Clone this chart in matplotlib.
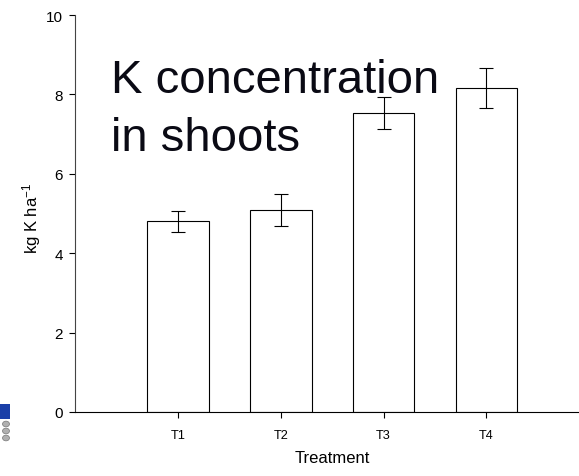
import numpy as np
import matplotlib
matplotlib.use('Agg')
import matplotlib.pyplot as plt
from matplotlib.patches import Rectangle, Circle

plt.rcParams['font.family'] = ['Liberation Sans', 'DejaVu Sans']
plt.rcParams['mathtext.fontset'] = 'custom'
plt.rcParams['mathtext.rm'] = 'Liberation Sans'
plt.rcParams['mathtext.it'] = 'Liberation Sans'

treatments = ['T1', 'T2', 'T3', 'T4']
k_conc = [4.80, 5.10, 7.52, 8.17]
err_low = [0.27, 0.41, 0.40, 0.51]
err_high = [0.26, 0.40, 0.41, 0.50]

fig = plt.figure(figsize=(5.79, 4.77), dpi=100)
ax = fig.add_axes([75 / 579, 64 / 477, 504 / 579, 397 / 477])

x = np.arange(1, len(treatments) + 1)
ax.bar(x, k_conc, width=0.6, color='white', edgecolor='black', linewidth=0.8, zorder=2)
ax.errorbar(x, k_conc, yerr=[err_low, err_high], fmt='none', ecolor='black',
            elinewidth=0.8, capsize=5, capthick=0.8, zorder=3)

ax.set_xlim(0, 4.9)
ax.set_ylim(0, 10)
ax.set_yticks([0, 2, 4, 6, 8, 10])
ax.set_xticks(x)
ax.set_xticklabels(treatments)
ax.tick_params(axis='y', direction='out', length=4.5, width=0.8, labelsize=11, pad=4)
ax.tick_params(axis='x', direction='out', length=4, width=0.8, labelsize=9.2, pad=8.5)
ax.spines['top'].set_visible(False)
ax.spines['right'].set_visible(False)
ax.spines['left'].set_color('#444444')
ax.spines['bottom'].set_color('black')
ax.spines['left'].set_linewidth(0.8)
ax.spines['bottom'].set_linewidth(0.8)

ax.set_ylabel('kg K ha$^{-1}$', fontsize=12)
ax.yaxis.set_label_coords(-0.064, 0.49)
ax.set_xlabel('Treatment', fontsize=12)
ax.xaxis.set_label_coords(0.51, -0.095)

fig.text(111 / 579, 1 - 93 / 477, 'K concentration', fontsize=34, color='#0a0a14', ha='left', va='baseline')
fig.text(111 / 579, 1 - 151 / 477, 'in shoots', fontsize=34, color='#0a0a14', ha='left', va='baseline')

# leftover bits of a toolbar at the lower left
fig.patches.append(Rectangle((0, 1 - 420 / 477), 10 / 579, 15 / 477, transform=fig.transFigure,
                             facecolor='#1a3fa8', edgecolor='none'))
for yy in [425, 432, 439]:
    fig.patches.append(Circle((6 / 579, 1 - yy / 477), 0.006, transform=fig.transFigure,
                              facecolor='#b0b0b0', edgecolor='#777777', linewidth=0.5))

fig.savefig('out.png', dpi=100)
